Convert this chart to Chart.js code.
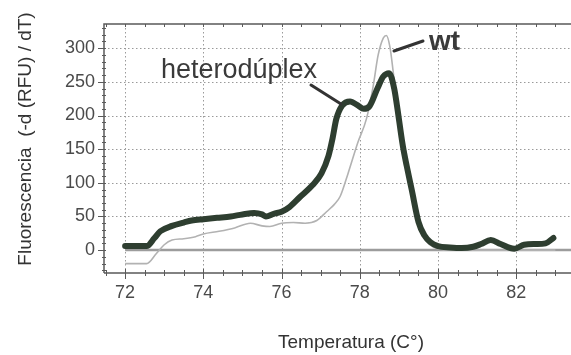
<!DOCTYPE html>
<html>
<head>
<meta charset="utf-8">
<script src="https://cdn.jsdelivr.net/npm/chart.js@4/dist/chart.umd.min.js"></script>
<style>
html,body{margin:0;padding:0;background:#fff;}
#c{display:block;}
</style>
</head>
<body>
<canvas id="c" width="571" height="355"></canvas>
<script>
// ---- data ----
const heteroTemps = [72.0,72.55,72.75,72.9,73.2,73.5,73.7,74.0,74.35,74.7,75.0,75.3,75.5,75.6,75.8,76.0,76.2,76.47,76.8,77.02,77.2,77.3,77.4,77.55,77.75,77.95,78.1,78.25,78.45,78.6,78.75,78.88,78.95,79.1,79.2,79.33,79.5,79.65,79.8,80.0,80.3,80.6,80.9,81.1,81.35,81.6,81.95,82.2,82.5,82.75,82.95];
const heteroValues = [6,6,18,28,36,41,44,46,48,50,53,55,53,50,54,57,64,79,97,114,140,165,195,215,221,215,210,214,240,258,263,240,215,155,125,89,42,22,12,6,4,3,5,9,15,9,2,8,9,10,18];
const wtTemps = [72.0,72.55,72.8,73.0,73.2,73.5,73.8,74.0,74.4,74.8,75.2,75.5,75.7,76.0,76.3,76.6,76.9,77.15,77.35,77.5,77.7,77.95,78.17,78.34,78.47,78.6,78.68,78.77,78.85,78.95,79.1,79.3,79.5,79.7,79.9,80.2,83.0];
const wtValues = [-20,-20,-5,8,15,17,20,24,28,33,40,36,35,40,41,40,44,57,68,80,114,160,195,243,290,315,319,302,267,215,152,90,40,14,4,0,0];
const baselineTemps = [72.0,83.4];
const baselineValues = [0,0];
const xTickValues = [72,74,76,78,80,82];
const yTickValues = [0,50,100,150,200,250,300];
const seriesLabels = ['heterodúplex','wt'];
const xTitle = 'Temperatura (C°)';
const yTitle = 'Fluorescencia  (-d (RFU) / dT)';

const FONT = "'Liberation Sans', Arial, Helvetica, sans-serif";
const toPts = (xs, ys) => xs.map((x, i) => ({x: x, y: ys[i]}));

const decor = {
  id: 'decor',
  beforeDatasetsDraw(chart) {
    const {ctx, chartArea: a, scales: {x, y}} = chart;
    ctx.save();
    // dotted grid
    ctx.strokeStyle = '#9a9a9a';
    ctx.lineWidth = 1;
    ctx.setLineDash([1.5, 2.5]);
    xTickValues.forEach(v => {
      const px = Math.round(x.getPixelForValue(v)) + 0.5;
      ctx.beginPath(); ctx.moveTo(px, a.top); ctx.lineTo(px, a.bottom); ctx.stroke();
    });
    yTickValues.forEach(v => {
      if (v === 0) return;
      const py = Math.round(y.getPixelForValue(v)) + 0.5;
      ctx.beginPath(); ctx.moveTo(a.left, py); ctx.lineTo(a.right, py); ctx.stroke();
    });
    ctx.setLineDash([]);
    // frame: left spine, top spine, bottom axis
    ctx.strokeStyle = '#5a5a5a';
    ctx.lineWidth = 1.5;
    ctx.beginPath();
    ctx.moveTo(a.left, a.bottom); ctx.lineTo(a.left, a.top); ctx.lineTo(a.right, a.top);
    ctx.moveTo(a.left, a.bottom); ctx.lineTo(a.right, a.bottom);
    ctx.stroke();
    // ticks
    ctx.lineWidth = 1;
    for (let t = 71.5; t <= 83.4; t += 0.5) {
      const px = Math.round(x.getPixelForValue(t)) + 0.5;
      if (px < a.left) continue;
      const major = xTickValues.includes(t);
      ctx.beginPath();
      ctx.moveTo(px, a.bottom - (major ? 4 : 3)); ctx.lineTo(px, a.bottom + (major ? 6 : 3));
      ctx.moveTo(px, a.top); ctx.lineTo(px, a.top + 3);
      ctx.stroke();
    }
    for (let v = -30; v <= 330; v += 10) {
      const py = Math.round(y.getPixelForValue(v)) + 0.5;
      const major = yTickValues.includes(v);
      ctx.beginPath();
      ctx.moveTo(a.left - (major ? 6 : 2), py); ctx.lineTo(a.left + 2, py);
      ctx.stroke();
    }
    ctx.restore();
  },
  afterDatasetsDraw(chart) {
    const {ctx} = chart;
    ctx.save();
    // annotation pointers
    ctx.strokeStyle = '#333';
    ctx.lineWidth = 3;
    ctx.lineCap = 'round';
    ctx.beginPath(); ctx.moveTo(311, 85); ctx.lineTo(341, 104); ctx.stroke();
    ctx.beginPath(); ctx.moveTo(394, 51); ctx.lineTo(423, 41); ctx.stroke();
    ctx.fillStyle = '#3a3a3a';
    ctx.textBaseline = 'alphabetic';
    ctx.textAlign = 'left';
    ctx.font = '27px ' + FONT;
    ctx.fillText(seriesLabels[0], 161, 78);
    ctx.font = 'bold 28px ' + FONT;
    ctx.fillText(seriesLabels[1], 429, 50);
    // axis titles
    ctx.fillStyle = '#333';
    ctx.font = '19px ' + FONT;
    ctx.textAlign = 'center';
    ctx.fillText(xTitle, 351, 348);
    ctx.translate(31, 139);
    ctx.rotate(-Math.PI / 2);
    ctx.fillText(yTitle, 0, 0);
    ctx.restore();
  }
};

new Chart(document.getElementById('c'), {
  type: 'line',
  data: {
    datasets: [
      {label: seriesLabels[0], data: toPts(heteroTemps, heteroValues), borderColor: '#2e3e30', borderWidth: 6,
       pointRadius: 0, tension: 0.25, cubicInterpolationMode: 'monotone', borderJoinStyle: 'round', borderCapStyle: 'round'},
      {label: seriesLabels[1], data: toPts(wtTemps, wtValues), borderColor: '#b2b2b2', borderWidth: 1.6,
       pointRadius: 0, tension: 0.25, cubicInterpolationMode: 'monotone'},
      {label: 'baseline', data: toPts(baselineTemps, baselineValues), borderColor: '#9c9c9c', borderWidth: 2.5,
       pointRadius: 0}
    ]
  },
  options: {
    responsive: false,
    animation: false,
    layout: {padding: {top: 24, left: 0, right: 0, bottom: 0}},
    plugins: {legend: {display: false}, tooltip: {enabled: false}},
    scales: {
      x: {
        type: 'linear', min: 71.46, max: 83.4,
        afterBuildTicks: s => { s.ticks = xTickValues.map(v => ({value: v})); },
        afterFit: s => { s.height = 82; },
        grid: {color: 'rgba(0,0,0,0)', drawTicks: true, tickLength: 6},
        border: {display: false},
        ticks: {color: '#4a4a4a', font: {family: FONT, size: 18}, padding: 3, maxRotation: 0, autoSkip: false}
      },
      y: {
        type: 'linear', min: -34, max: 336,
        afterBuildTicks: s => { s.ticks = yTickValues.map(v => ({value: v})); },
        afterFit: s => { s.width = 104; },
        grid: {color: 'rgba(0,0,0,0)', drawTicks: true, tickLength: 6},
        border: {display: false},
        ticks: {color: '#4a4a4a', font: {family: FONT, size: 18}, padding: 3, autoSkip: false}
      }
    }
  },
  plugins: [decor]
});
</script>
</body>
</html>
